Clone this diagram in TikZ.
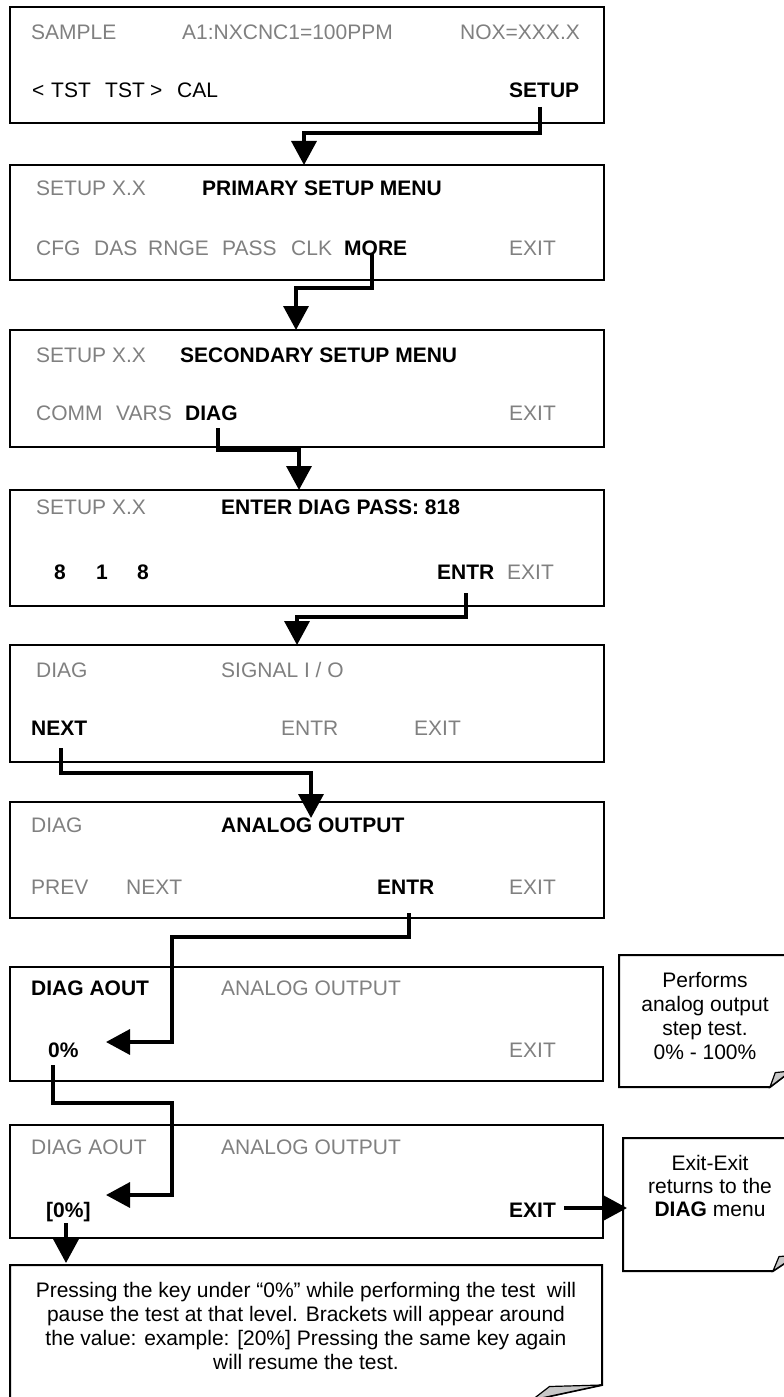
\documentclass[tikz,border=0pt]{standalone}
\usepackage{fontspec}
\setmainfont{Liberation Sans}
\usetikzlibrary{arrows.meta,fit}
\definecolor{lcdgray}{RGB}{128,128,128}
\definecolor{foldgray}{RGB}{200,200,200}
\newcommand\dognote[6]{%
  \draw[noteline] (#1,#2) -- (#3,#2) -- (#3,#4-#6) -- (#3-#5,#4) -- (#1,#4) -- cycle;
  \filldraw[foldtri] (#3-#5,#4) -- (#3-#5*0.75,#4-#6*0.9) -- (#3,#4-#6) -- cycle;}
\begin{document}
\begin{tikzpicture}[x=1bp,y=-1bp,
  font=\fontsize{21bp}{24.3bp}\selectfont,
  screen/.style={draw=black, line width=2bp, inner sep=0pt, rectangle},
  lbl/.style={anchor=west, inner sep=0pt, text height=15bp, text depth=0bp},
  gtxt/.style={lbl, text=lcdgray},
  ktxt/.style={lbl, text=black},
  btxt/.style={lbl, text=black, font=\fontsize{21bp}{24.3bp}\selectfont\bfseries},
  conn/.style={line width=3.5bp, line join=miter, -{Triangle[width=25bp,length=24bp]}},
  noteline/.style={draw=black, line width=2bp, fill=white, line join=miter},
  foldtri/.style={fill=foldgray, draw=black, line width=1.2bp, line join=miter},
  notetext/.style={align=center, inner sep=0pt}]
\useasboundingbox (0,0) rectangle (783,1397);

% screens
\node[screen, fit={(10,7)(604,123)}] (b1) {};
\node[screen, fit={(10,165)(604,280)}] (b2) {};
\node[screen, fit={(10,330)(604,447)}] (b3) {};
\node[screen, fit={(10,490)(604,606)}] (b4) {};
\node[screen, fit={(10,645)(604,762)}] (b5) {};
\node[screen, fit={(10,802)(604,918)}] (b6) {};
\node[screen, fit={(10,967)(603,1081)}] (b7) {};
\node[screen, fit={(10,1125)(603,1238)}] (b8) {};

% notes
\dognote{10}{1265}{602}{1400}{70}{15}
\dognote{619}{955}{791}{1087}{21}{16}
\dognote{623}{1138}{797}{1271}{24}{16}

% box 1
\node[gtxt] (s1a) at (31,32) {SAMPLE};
\node[gtxt] (s1b) at (182,32) {A1:NXCNC1=100PPM};
\node[gtxt] (s1c) at (460,32) {NOX=XXX.X};
\node[ktxt] (s1d) at (32,90) {<};
\node[ktxt] (s1e) at (51,90) {TST};
\node[ktxt] (s1f) at (105,90) {TST};
\node[ktxt] (s1g) at (150,90) {>};
\node[ktxt] (s1h) at (177,90) {CAL};
\node[btxt] (s1i) at (509,90) {SETUP};

% box 2
\node[gtxt] (s2a) at (36,188) {SETUP X.X};
\node[btxt] (s2b) at (202,188) {PRIMARY SETUP MENU};
\node[gtxt] (s2c) at (36,248) {CFG};
\node[gtxt] (s2d) at (94,248) {DAS};
\node[gtxt] (s2e) at (148,248) {RNGE};
\node[gtxt] (s2f) at (222,248) {PASS};
\node[gtxt] (s2g) at (291,248) {CLK};
\node[btxt] (s2h) at (344,248) {MORE};
\node[gtxt] (s2i) at (509,248) {EXIT};

% box 3
\node[gtxt] (s3a) at (36,355) {SETUP X.X};
\node[btxt] (s3b) at (180,355) {SECONDARY SETUP MENU};
\node[gtxt] (s3c) at (36,413) {COMM};
\node[gtxt] (s3d) at (116,413) {VARS};
\node[btxt] (s3e) at (185,413) {DIAG};
\node[gtxt] (s3f) at (509,413) {EXIT};

% box 4
\node[gtxt] (s4a) at (36,507) {SETUP X.X};
\node[btxt] (s4b) at (221,507) {ENTER DIAG PASS: 818};
\node[btxt] (s4c) at (54,572) {8};
\node[btxt] (s4d) at (96,572) {1};
\node[btxt] (s4e) at (137,572) {8};
\node[btxt] (s4f) at (437,572) {ENTR};
\node[gtxt] (s4g) at (507,572) {EXIT};

% box 5
\node[gtxt] (s5a) at (36,670) {DIAG};
\node[gtxt] (s5b) at (221,670) {SIGNAL I / O};
\node[btxt] (s5c) at (31,728) {NEXT};
\node[gtxt] (s5d) at (281,728) {ENTR};
\node[gtxt] (s5e) at (414,728) {EXIT};

% box 6
\node[gtxt] (s6a) at (31,825) {DIAG};
\node[btxt] (s6b) at (221,825) {ANALOG OUTPUT};
\node[gtxt] (s6c) at (31,887) {PREV};
\node[gtxt] (s6d) at (126,887) {NEXT};
\node[btxt] (s6e) at (377,887) {ENTR};
\node[gtxt] (s6f) at (509,887) {EXIT};

% box 7
\node[btxt] (s7a) at (31,988) {DIAG AOUT};
\node[gtxt] (s7b) at (221,988) {ANALOG OUTPUT};
\node[btxt] (s7c) at (48,1050) {0\%};
\node[gtxt] (s7d) at (509,1050) {EXIT};

% box 8
\node[gtxt] (s8a) at (31,1147) {DIAG AOUT};
\node[gtxt] (s8b) at (221,1147) {ANALOG OUTPUT};
\node[btxt] (s8c) at (46,1210) {[0\%]};
\node[btxt] (s8d) at (509,1210) {EXIT};

% note texts
\node[notetext] (n1) at (705,1016) {Performs\\analog output\\step test.\\0\% - 100\%};
\node[notetext, font=\fontsize{21bp}{23bp}\selectfont] (n2) at (710,1186) {Exit-Exit\\returns to the\\\textbf{DIAG} menu};
\node[notetext] (n3) at (306,1326) {Pressing the key under “0\%” while performing the test\ \ will\\pause the test at that level. Brackets will appear around\\the value: example: [20\%] Pressing the same key again\\will resume the test.};

% connector coordinates
\coordinate (k1) at (540,107); \coordinate (t1) at (304,165);
\coordinate (k2) at (372,254); \coordinate (t2) at (296,330);
\coordinate (k3) at (218,428); \coordinate (t3) at (299,490);
\coordinate (k4) at (466,593); \coordinate (t4) at (297,645);
\coordinate (k5) at (61,748);  \coordinate (t5) at (311,818);
\coordinate (k6) at (409,913); \coordinate (c6) at (172,1042); \coordinate (t6) at (106,1042);
\coordinate (k7) at (53,1065); \coordinate (c7) at (172,1195); \coordinate (t7) at (106,1195);
\coordinate (k8) at (66,1223); \coordinate (t8) at (66,1263);
\coordinate (k9) at (564,1208); \coordinate (t9) at (627,1208);

\draw[conn] (k1) -- ++(0,26) -| (t1);
\draw[conn] (k2) -- ++(0,34) -| (t2);
\draw[conn] (k3) -- ++(0,22) -| (t3);
\draw[conn] (k4) -- ++(0,24) -| (t4);
\draw[conn] (k5) -- ++(0,25) -| (t5);
\draw[conn] (k6) -- ++(0,24) -| (c6) -- (t6);
\draw[conn] (k7) -- ++(0,38) -| (c7) -- (t7);
\draw[conn] (k8) -- (t8);
\draw[conn] (k9) -- (t9);
\end{tikzpicture}
\end{document}
